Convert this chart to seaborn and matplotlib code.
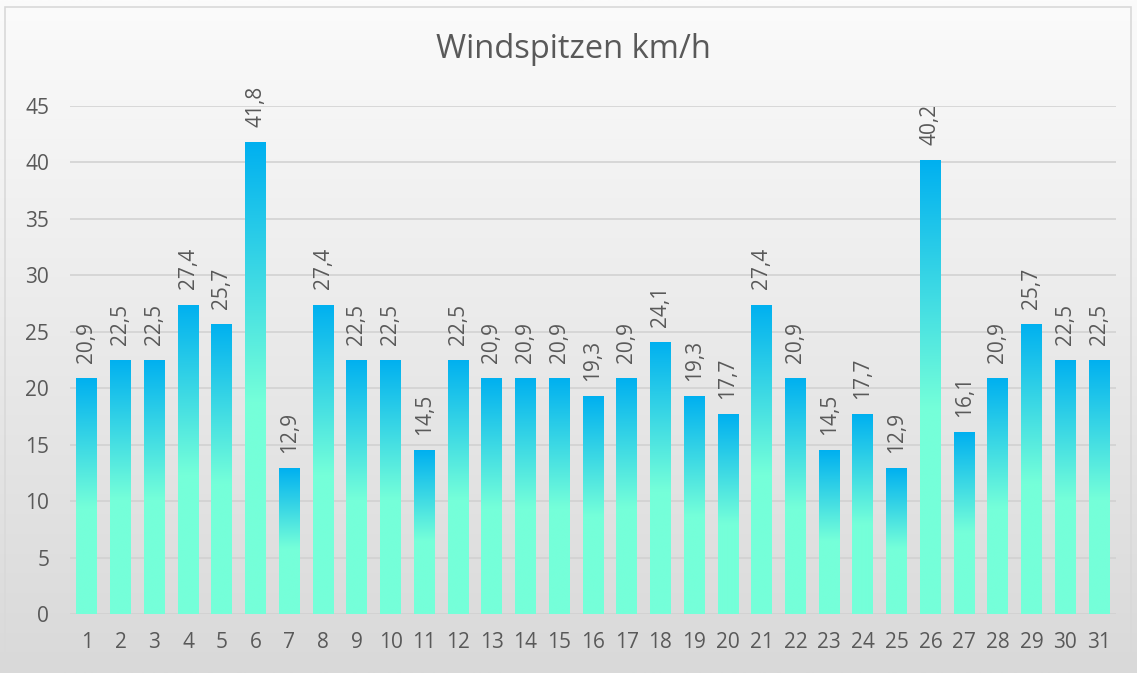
import numpy as np
import pandas as pd
import matplotlib
matplotlib.use("Agg")
import matplotlib.pyplot as plt
from matplotlib.colors import to_rgb
from matplotlib.patches import Rectangle
import seaborn as sns

days = [str(i) for i in range(1, 32)]
values = [20.9, 22.5, 22.5, 27.4, 25.7, 41.8, 12.9, 27.4, 22.5, 22.5, 14.5, 22.5,
          20.9, 20.9, 20.9, 19.3, 20.9, 24.1, 19.3, 17.7, 27.4, 20.9, 14.5, 17.7,
          12.9, 40.2, 16.1, 20.9, 25.7, 22.5, 22.5]
title = "Windspitzen km/h"
yticks = [0, 5, 10, 15, 20, 25, 30, 35, 40, 45]

sns.set_theme(style="white")
plt.rcParams['font.family'] = ['Open Sans', 'DejaVu Sans']
TXT = "#595959"

W, H = 1137, 673
fig = plt.figure(figsize=(W / 100, H / 100), dpi=100)

# background gradient
bg = fig.add_axes([0, 0, 1, 1], zorder=-10)
grad = np.linspace(0, 1, 512)[:, None]
top_c = np.array(to_rgb("#FBFBFB"))
bot_c = np.array(to_rgb("#D9D9D9"))
img = top_c[None, None, :] * (1 - grad[..., None]) + bot_c[None, None, :] * grad[..., None]
img = np.repeat(img, 2, axis=1)
bg.imshow(img, aspect='auto', extent=[0, W, H, 0])
bg.add_patch(Rectangle((5, 7), W - 11, H - 13, fill=False, ec="#D9D9D9", lw=1.2))
bg.set_xlim(0, W)
bg.set_ylim(H, 0)
bg.axis('off')

ax = fig.add_axes([70 / W, 1 - 614 / H, 1046 / W, 508 / H])
ax.set_facecolor('none')
df = pd.DataFrame({"day": days, "value": values})
sns.barplot(data=df, x="day", y="value", color="#00B0F0", width=0.62, ax=ax,
            saturation=1, zorder=3)

ax.set_ylim(0, 45)
ax.set_yticks(yticks)
ax.set_xlim(-0.5, len(days) - 0.5)
for y in yticks:
    ax.axhline(y, color="#D0D0D0", lw=1.1, zorder=1)
for s in ax.spines.values():
    s.set_visible(False)
ax.set_xlabel("")
ax.set_ylabel("")
ax.tick_params(axis='both', length=0, labelsize=15, labelcolor=TXT)
ax.tick_params(axis='y', pad=15)
ax.tick_params(axis='x', pad=13)

c_top = np.array(to_rgb("#00B0F0"))
c_bot = np.array(to_rgb("#75FFD9"))
for p, v in zip(ax.patches, values):
    x0 = p.get_x()
    w = p.get_width()
    h = p.get_height()
    f = np.linspace(0, 1, 600)  # 0 = top
    t = np.clip(f / 0.55, 0, 1)[:, None]
    col = c_top[None, :] * (1 - t) + c_bot[None, :] * t
    gimg = np.repeat(col[:, None, :], 2, axis=1)
    im = ax.imshow(gimg, aspect='auto', extent=[x0, x0 + w, 0, h], zorder=4,
                   interpolation='bilinear')
    im.set_clip_path(p)
    p.set_facecolor('none')
    p.set_edgecolor('none')
    ax.annotate(f"{v:.1f}".replace('.', ','), (x0 + w / 2, h), xytext=(0, 11),
                textcoords='offset points', rotation=90, ha='center', va='bottom',
                fontsize=15, color=TXT, annotation_clip=False)

ax.set_xlim(-0.5, len(days) - 0.5)
ax.set_ylim(0, 45)

fig.text(573 / W, 1 - 50 / H, title, ha='center', va='center', fontsize=23.5, color=TXT)

fig.savefig("out.png", dpi=100)
